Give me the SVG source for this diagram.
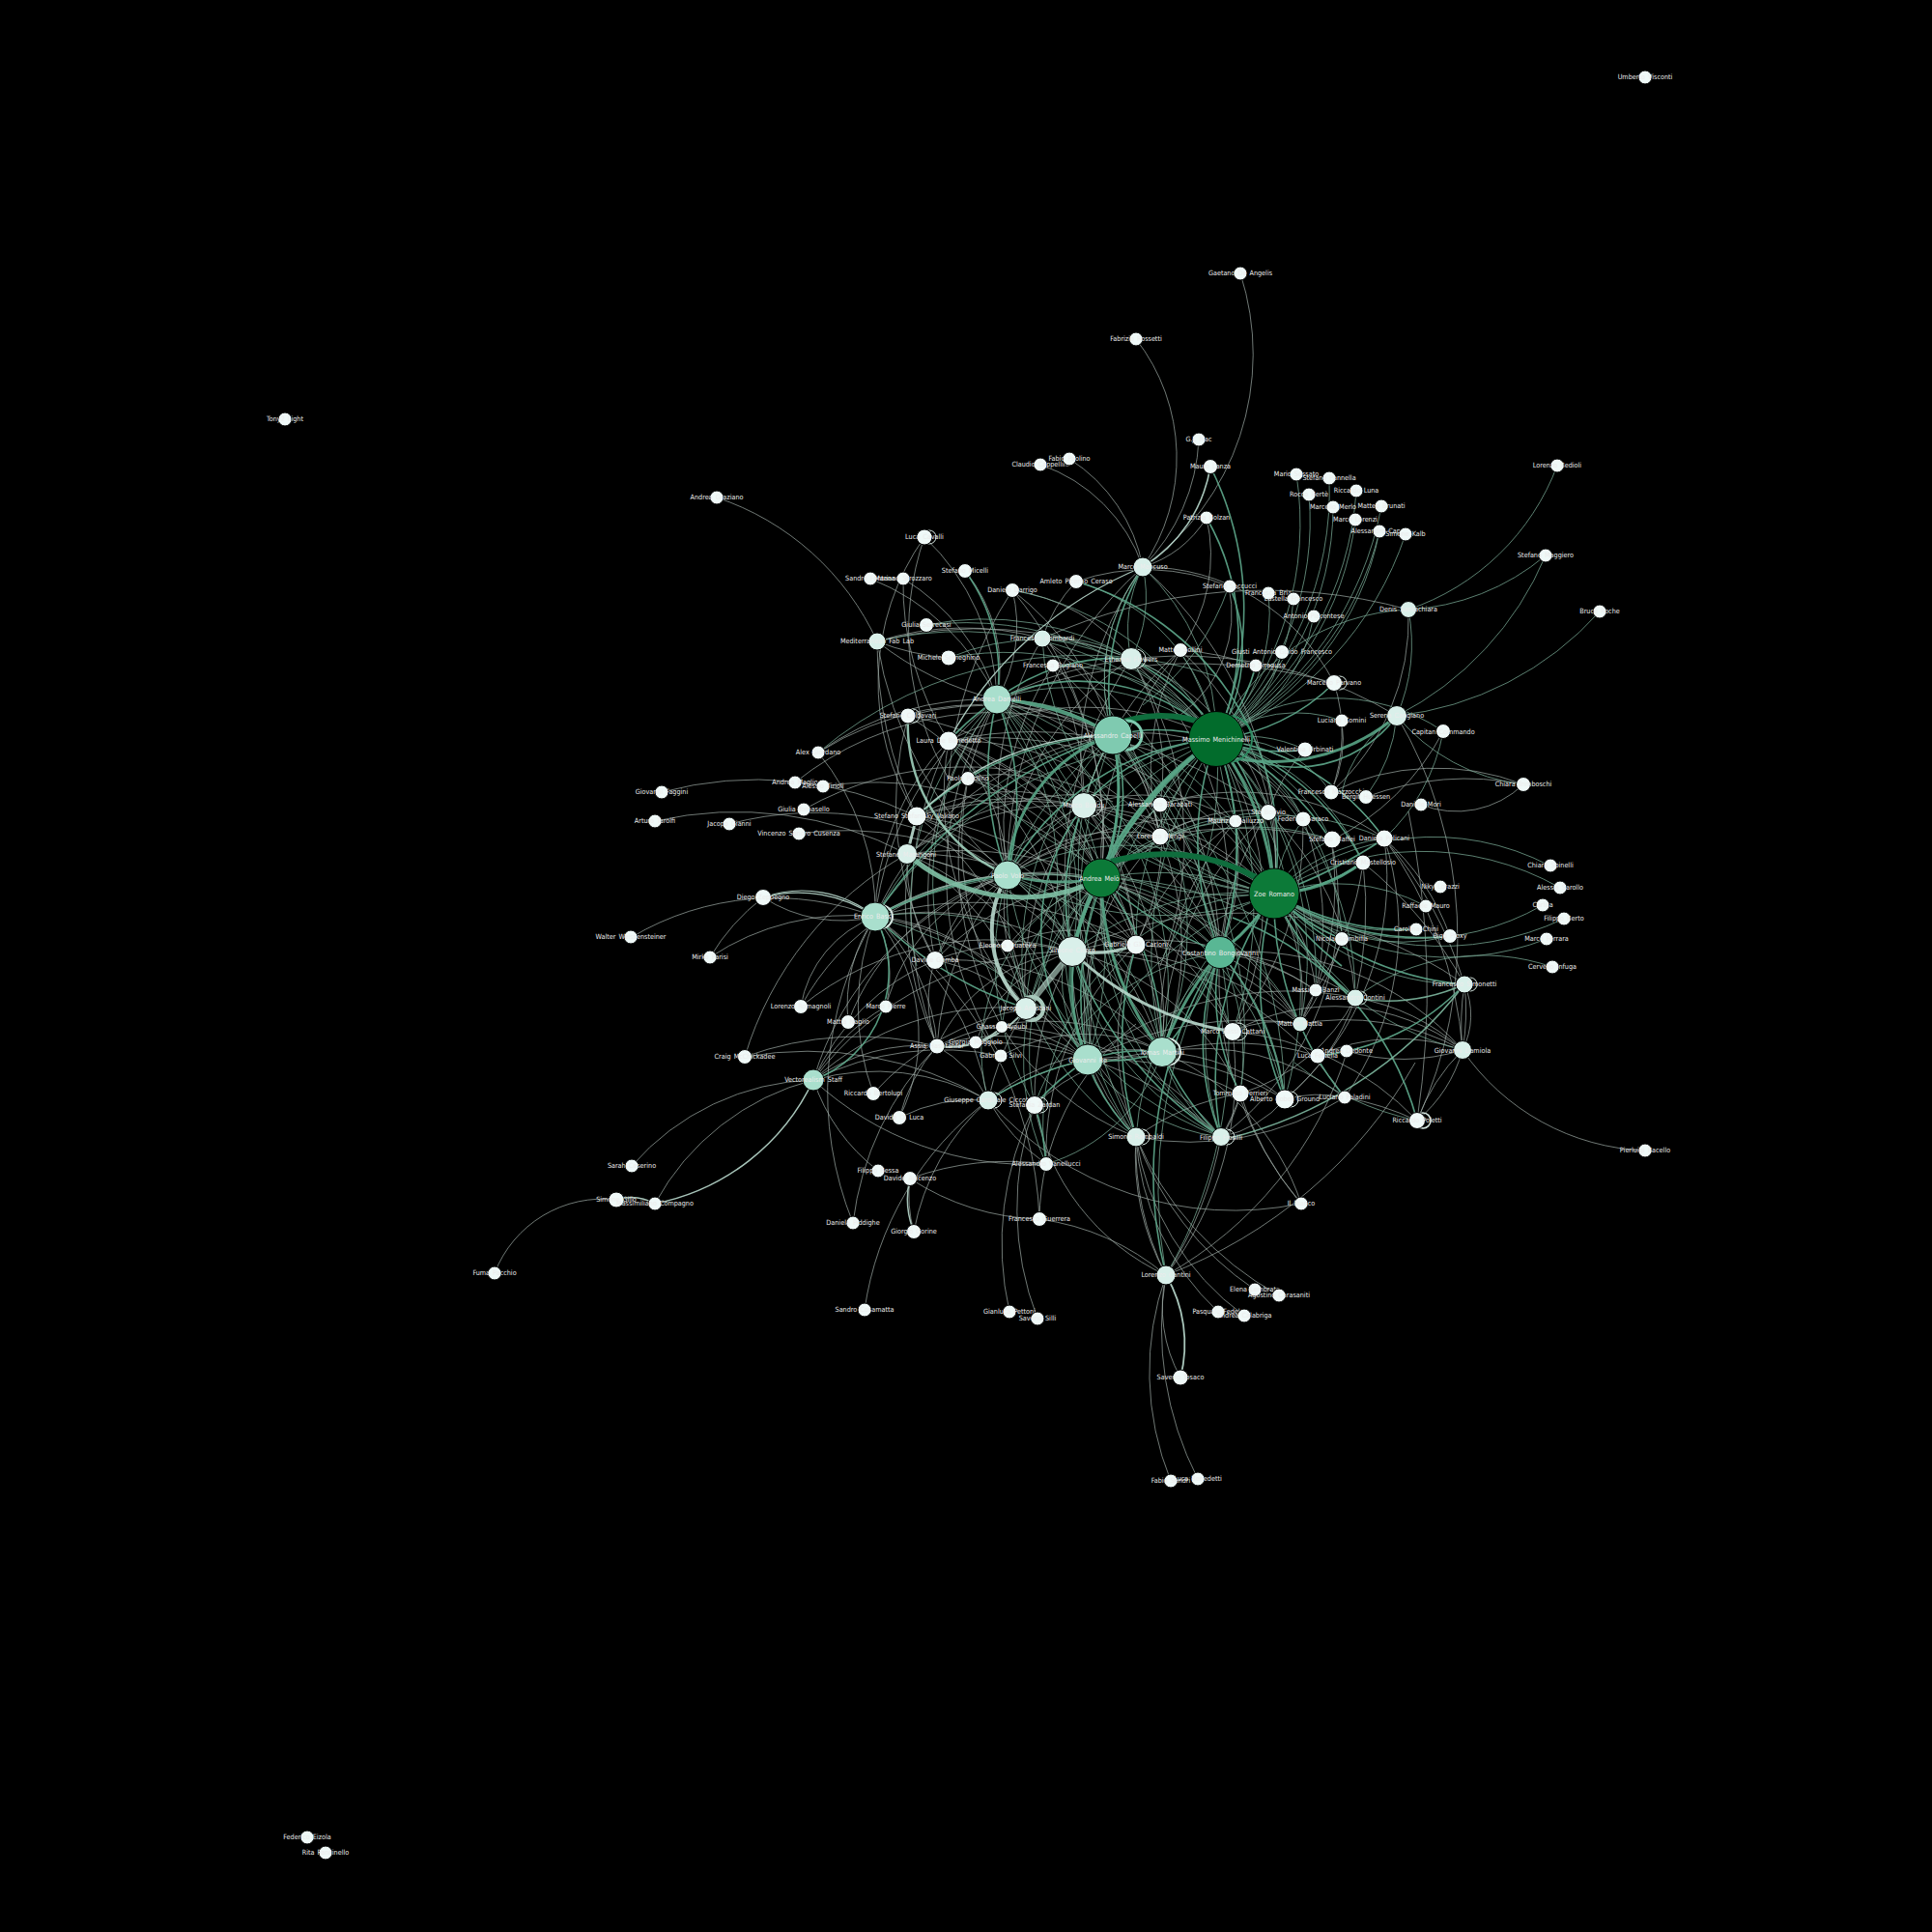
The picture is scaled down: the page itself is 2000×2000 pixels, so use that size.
<svg xmlns="http://www.w3.org/2000/svg" width="2000" height="2000" viewBox="0 0 2000 2000">
<style>
#connectors path,#connectors circle{fill:none}
.t{stroke:#d5e6e0;stroke-width:.7;opacity:.75}
.g{stroke:#86bca6;stroke-width:.8;opacity:.85}
.m{stroke:#5fa98c;stroke-width:1.6;opacity:.9}
.n{stroke:#58a586;stroke-width:3;opacity:.9}
.d{stroke:#0f6d3d;stroke-width:6}
.w{stroke:#b9d9cd;stroke-width:3;opacity:.9}
.l{stroke:#d5e6e0;stroke-width:1}
.node circle{stroke:#000;stroke-width:1}
.node text{font-family:"DejaVu Sans Condensed","DejaVu Sans",sans-serif;font-size:7.2px;word-spacing:1px;fill:#ececec;text-anchor:middle}
.s circle{fill:#eff9f8}.a circle{fill:#d9f0ea}.b circle{fill:#a9dfcd}.c circle{fill:#7fcab0}.e circle{fill:#59b794}.f circle{fill:#0c7a38}.k circle{fill:#026c2c}
</style>
<rect width="2000" height="2000" fill="#000"/>
<g id="connectors">
<g class="t">
<path d="M1284 283A270 270 0 0 1 1183 587"/><path d="M1176 351A200 200 0 0 1 1183 587"/><path d="M1241 455A200 200 0 0 1 1183 587"/><path d="M1249 536A120 120 0 0 1 1183 587"/>
<path d="M1249 536A170 170 0 0 1 1222 673"/><path d="M1077 481A170 170 0 0 1 1183 587"/><path d="M1107 475A170 170 0 0 1 1183 587"/>
<path d="M742 515A280 280 0 0 1 908 664"/><path d="M957 556A240 240 0 0 1 1032 724"/><path d="M957 556A260 260 0 0 0 949 845"/><path d="M957 556A300 300 0 0 0 982 806"/>
<path d="M999 591A160 160 0 0 1 1032 724"/><path d="M901 599A240 240 0 0 1 1032 724"/><path d="M935 599A220 220 0 0 1 1032 724"/><path d="M935 599A300 300 0 0 0 982 767"/>
<path d="M1048 611A150 150 0 0 1 1032 724"/><path d="M1048 611A190 190 0 0 1 1171 682"/><path d="M1048 611A300 300 0 0 1 1152 761"/>
<path d="M908 664A420 420 0 0 0 949 845"/><path d="M908 664A400 400 0 0 0 1043 906"/><path d="M908 664A320 320 0 0 0 1032 724"/><path d="M908 664A260 260 0 0 0 982 681"/><path d="M908 664A300 300 0 0 1 1079 661"/><path d="M908 664A420 420 0 0 1 1171 682"/>
<path d="M847 779A260 260 0 0 1 906 949"/><path d="M847 779A300 300 0 0 1 1032 724"/><path d="M847 779A320 320 0 0 1 1079 735"/>
<path d="M685 820A380 380 0 0 1 949 845"/><path d="M678 850A380 380 0 0 1 939 884"/><path d="M755 853A340 340 0 0 1 1043 906"/><path d="M823 810A330 330 0 0 1 1152 761"/><path d="M852 814A330 330 0 0 1 1140 909"/><path d="M832 838A340 340 0 0 1 1152 830"/><path d="M827 863A330 330 0 0 1 1043 906"/>
<path d="M654 970A290 290 0 0 1 906 949"/><path d="M735 991A220 220 0 0 1 790 929"/><path d="M735 991A260 260 0 0 1 906 949"/><path d="M790 929A150 150 0 0 0 906 949"/><path d="M771 1094A360 360 0 0 1 939 884"/><path d="M771 1094A370 370 0 0 1 1023 1139"/>
<path d="M654 1207A260 260 0 0 1 842 1118"/><path d="M678 1246A260 260 0 0 1 842 1118"/><path d="M512 1318A120 120 0 0 1 638 1242"/><path d="M842 1118A200 200 0 0 0 909 1212"/><path d="M842 1118A330 330 0 0 0 1083 1205"/>
<path d="M906 949A120 120 0 0 0 829 1042"/><path d="M906 949A160 160 0 0 0 878 1058"/><path d="M906 949A130 130 0 0 1 917 1042"/><path d="M906 949A190 190 0 0 1 931 1157"/><path d="M906 949A200 200 0 0 1 1062 1044"/><path d="M906 949A200 200 0 0 1 970 1083"/><path d="M906 949A300 300 0 0 1 1023 1139"/><path d="M906 949A260 260 0 0 0 904 1132"/><path d="M906 949A360 360 0 0 0 883 1266"/><path d="M906 949A400 400 0 0 1 1076 1262"/><path d="M906 949A300 300 0 0 1 1110 985"/><path d="M906 949A320 320 0 0 1 1126 1097"/><path d="M906 949A300 300 0 0 1 1043 906"/><path d="M906 949A340 340 0 0 1 1140 909"/><path d="M906 949A320 320 0 0 1 1152 761"/><path d="M906 949A340 340 0 0 1 1032 724"/><path d="M906 949A260 260 0 0 1 982 767"/><path d="M906 949A350 350 0 0 1 1176 978"/>
<path d="M968 994A130 130 0 0 0 970 1083"/><path d="M968 994A180 180 0 0 1 1062 1044"/><path d="M968 994A230 230 0 0 1 1110 985"/><path d="M968 994A300 300 0 0 1 1203 1089"/><path d="M968 994A280 280 0 0 1 1140 909"/><path d="M968 994A250 250 0 0 1 1043 906"/>
<path d="M829 1042A260 260 0 0 1 1043 906"/><path d="M829 1042A310 310 0 0 1 1110 985"/><path d="M917 1042A200 200 0 0 1 1043 906"/><path d="M878 1058A250 250 0 0 1 1043 906"/><path d="M771 1094A340 340 0 0 1 970 1083"/>
<path d="M842 1118A190 190 0 0 1 970 1083"/><path d="M842 1118A240 240 0 0 1 1023 1139"/><path d="M842 1118A290 290 0 0 1 1062 1044"/><path d="M842 1118A300 300 0 0 1 1036 1093"/><path d="M842 1118A330 330 0 0 1 1110 985"/><path d="M842 1118A240 240 0 0 1 968 994"/><path d="M842 1118A320 320 0 0 1 1043 906"/><path d="M842 1118A200 200 0 0 1 917 1042"/>
<path d="M970 1083A190 190 0 0 1 1126 1097"/><path d="M970 1083A250 250 0 0 1 1203 1089"/><path d="M970 1083A170 170 0 0 1 1110 985"/><path d="M970 1083A130 130 0 0 1 1023 1139"/>
<path d="M931 1157A170 170 0 0 1 1023 1139"/><path d="M931 1157A180 180 0 0 1 970 1083"/><path d="M904 1132A280 280 0 0 1 1062 1044"/>
<path d="M883 1266A320 320 0 0 1 970 1083"/><path d="M946 1275A240 240 0 0 1 1023 1139"/><path d="M942 1220A140 140 0 0 0 946 1275"/><path d="M895 1356A330 330 0 0 1 1023 1139"/><path d="M942 1220A300 300 0 0 1 1083 1205"/><path d="M942 1220A260 260 0 0 0 1076 1262"/><path d="M1045 1358A320 320 0 0 1 1071 1144"/><path d="M1074 1365A320 320 0 0 1 1071 1144"/><path d="M1076 1262A260 260 0 0 1 1207 1320"/>
<path d="M1083 1205A300 300 0 0 1 1176 978"/><path d="M1023 1139A210 210 0 0 0 1083 1205"/><path d="M1076 1262A260 260 0 0 1 1176 1060"/><path d="M1071 1144A320 320 0 0 1 1110 985"/>
<path d="M1176 1177A260 260 0 0 0 1207 1320"/><path d="M1207 1320A300 300 0 0 1 1176 1177"/><path d="M1176 1177A320 320 0 0 0 1299 1335"/><path d="M1176 1177A270 270 0 0 0 1261 1358"/><path d="M1176 1177A280 280 0 0 0 1288 1362"/><path d="M1176 1177A340 340 0 0 0 1324 1341"/><path d="M1212 1533A300 300 0 0 1 1207 1320"/><path d="M1240 1531A340 340 0 0 1 1207 1320"/><path d="M1222 1426A150 150 0 0 1 1207 1320"/><path d="M1207 1320A400 400 0 0 0 1264 1177"/><path d="M1207 1320A340 340 0 0 0 1276 1068"/><path d="M1207 1320A500 500 0 0 0 1465 1100"/><path d="M1207 1320A400 400 0 0 0 1394 1090"/><path d="M1347 1246A260 260 0 0 0 1203 1089"/><path d="M1347 1246A320 320 0 0 1 1284 1132"/><path d="M1347 1246A360 360 0 0 1 1263 986"/>
<path d="M1176 1177A300 300 0 0 0 1392 1136"/><path d="M1264 1177A120 120 0 0 0 1330 1138"/><path d="M1264 1177A120 120 0 0 0 1284 1132"/><path d="M1284 1132A200 200 0 0 1 1264 1177"/><path d="M1176 1177A260 260 0 0 1 1284 1132"/><path d="M1330 1138A130 130 0 0 1 1392 1136"/><path d="M1392 1136A300 300 0 0 1 1467 1160"/><path d="M1330 1138A230 230 0 0 0 1403 1033"/>
<path d="M1403 1033A220 220 0 0 1 1514 1087"/><path d="M1362 1025A180 180 0 0 0 1346 1060"/><path d="M1364 1093A200 200 0 0 1 1514 1087"/><path d="M1514 1087A210 210 0 0 1 1394 1088"/><path d="M1467 1160A200 200 0 0 1 1514 1087"/><path d="M1514 1087A150 150 0 0 1 1467 1160"/><path d="M1516 1019A230 230 0 0 1 1514 1087"/><path d="M1516 1019A80 80 0 0 1 1514 1087"/><path d="M1514 1087A260 260 0 0 1 1516 1019"/><path d="M1514 1087A240 240 0 0 0 1703 1191"/>
<path d="M1467 1160A900 900 0 0 0 1458 840"/><path d="M1403 1033A400 400 0 0 0 1411 893"/><path d="M1389 972A300 300 0 0 1 1346 1060"/><path d="M1433 868A420 420 0 0 1 1514 1087"/><path d="M1411 893A420 420 0 0 1 1516 1019"/><path d="M1433 868A420 420 0 0 1 1516 1019"/><path d="M1446 741A450 450 0 0 1 1467 1160"/><path d="M1433 868A250 250 0 0 1 1501 969"/>
<path d="M1378 820A250 250 0 0 1 1577 812"/><path d="M1414 825A300 300 0 0 1 1577 812"/><path d="M1577 812A100 100 0 0 1 1471 833"/><path d="M1494 757A260 260 0 0 1 1378 870"/>
<path d="M1079 661A560 560 0 0 1 1458 631"/><path d="M1222 673A300 300 0 0 1 1300 689"/><path d="M1381 707A560 560 0 0 0 1032 724"/><path d="M1032 724A430 430 0 0 1 1446 741"/><path d="M1114 602A150 150 0 0 0 1079 661"/><path d="M1114 602A220 220 0 0 1 1272 607"/>
<path d="M1272 607A130 130 0 0 1 1222 740"/><path d="M1183 587A220 220 0 0 1 1381 707"/><path d="M1381 707A170 170 0 0 1 1378 820"/><path d="M1389 746A130 130 0 0 1 1378 820"/><path d="M1351 776A180 180 0 0 0 1313 841"/><path d="M1458 631A240 240 0 0 1 1378 820"/>
<path d="M1201 833A260 260 0 0 1 1433 868"/><path d="M1201 866A170 170 0 0 1 1349 848"/><path d="M1201 866A90 90 0 0 1 1279 850"/><path d="M1201 866A400 400 0 0 1 1378 869"/><path d="M1201 833A140 140 0 0 1 1313 841"/><path d="M1201 833A170 170 0 0 0 1043 906"/><path d="M1201 866A170 170 0 0 0 1043 906"/><path d="M1122 834A180 180 0 0 1 1279 850"/><path d="M1152 761A200 200 0 0 1 1349 848"/><path d="M1152 761A220 220 0 0 1 1201 866"/><path d="M1171 682A240 240 0 0 1 1313 841"/><path d="M1171 682A220 220 0 0 1 1201 833"/><path d="M1032 724A220 220 0 0 1 1201 833"/><path d="M1032 724A240 240 0 0 1 1201 866"/><path d="M982 767A270 270 0 0 1 1201 866"/><path d="M982 767A240 240 0 0 1 1140 909"/><path d="M982 767A200 200 0 0 1 1043 906"/><path d="M982 767A400 400 0 0 1 1313 841"/><path d="M1002 806A130 130 0 0 1 1122 834"/><path d="M1002 806A190 190 0 0 1 1140 909"/><path d="M1002 806A300 300 0 0 1 1176 978"/><path d="M1002 806A340 340 0 0 0 1043 1044"/><path d="M949 845A330 330 0 0 1 1110 985"/><path d="M949 845A340 340 0 0 1 1176 978"/><path d="M949 845A200 200 0 0 1 1122 834"/><path d="M939 884A300 300 0 0 1 1122 834"/><path d="M939 884A300 300 0 0 1 1110 985"/>
<path d="M1043 979A150 150 0 0 1 1176 978"/><path d="M1043 979A250 250 0 0 0 1126 1097"/><path d="M1043 979A180 180 0 0 1 1043 906"/><path d="M1043 979A260 260 0 0 1 1140 909"/>
<path d="M1010 1079A150 150 0 0 1 1110 985"/><path d="M1037 1063A180 180 0 0 1 1126 1097"/><path d="M1036 1093A180 180 0 0 1 1203 1089"/><path d="M1037 1063A300 300 0 0 1 1264 1177"/><path d="M1010 1079A360 360 0 0 1 1264 1177"/><path d="M1023 1139A230 230 0 0 1 1203 1089"/><path d="M1071 1144A200 200 0 0 1 1203 1089"/><path d="M1071 1144A240 240 0 0 0 1207 1320"/><path d="M1023 1139A340 340 0 0 0 1346 1246"/><path d="M1037 1063A290 290 0 0 0 1176 1177"/><path d="M1062 1044A210 210 0 0 1 1176 1177"/><path d="M1126 1097A200 200 0 0 0 1176 1177"/><path d="M1110 985A280 280 0 0 0 1176 1177"/><path d="M1176 978A270 270 0 0 0 1176 1177"/>
<path d="M1284 1132A200 200 0 0 0 1403 1033"/><path d="M1276 1068A220 220 0 0 1 1514 1087"/><path d="M1346 1060A250 250 0 0 1 1514 1087"/><path d="M1203 1089A240 240 0 0 1 1392 1136"/><path d="M1203 1089A220 220 0 0 1 1330 1138"/><path d="M1126 1097A310 310 0 0 1 1330 1138"/><path d="M1126 1097A300 300 0 0 1 1284 1132"/><path d="M1110 985A260 260 0 0 1 1284 1132"/><path d="M1203 1089A300 300 0 0 1 1364 1093"/><path d="M1276 1068A110 110 0 0 1 1346 1060"/><path d="M1276 1068A300 300 0 0 1 1467 1160"/>
<path d="M1319 925A180 180 0 0 1 1362 1025"/><path d="M1319 925A200 200 0 0 1 1346 1060"/><path d="M1263 986A240 240 0 0 1 1346 1060"/><path d="M1263 986A300 300 0 0 1 1514 1087"/><path d="M1263 986A300 300 0 0 1 1403 1033"/><path d="M1263 986A240 240 0 0 1 1362 1025"/><path d="M1176 978A240 240 0 0 1 1346 1060"/><path d="M1176 978A250 250 0 0 1 1276 1068"/>
<path d="M939 884A300 300 0 0 1 1201 833"/><path d="M939 884A330 330 0 0 1 1176 978"/><path d="M939 884A330 330 0 0 1 1126 1097"/><path d="M939 884A380 380 0 0 1 1203 1089"/><path d="M939 884A400 400 0 0 1 1263 986"/><path d="M939 884A200 200 0 0 0 968 994"/><path d="M939 884A260 260 0 0 1 1062 1044"/><path d="M949 845A400 400 0 0 1 1319 925"/><path d="M949 845A300 300 0 0 1 1201 866"/><path d="M949 845A280 280 0 0 1 1062 1044"/><path d="M949 845A350 350 0 0 0 970 1083"/><path d="M949 845A380 380 0 0 1 1203 1089"/>
<path d="M982 767A300 300 0 0 1 1176 978"/><path d="M982 767A340 340 0 0 1 1126 1097"/><path d="M982 767A380 380 0 0 1 1203 1089"/><path d="M982 767A330 330 0 0 0 1062 1044"/><path d="M982 767A340 340 0 0 1 1319 925"/><path d="M982 767A300 300 0 0 1 1259 765"/><path d="M982 767A400 400 0 0 0 970 1083"/><path d="M940 741A360 360 0 0 1 1122 834"/><path d="M940 741A340 340 0 0 0 968 994"/><path d="M940 741A380 380 0 0 1 1110 985"/><path d="M940 741A300 300 0 0 1 1152 761"/>
<path d="M1032 724A360 360 0 0 0 1037 1063"/><path d="M1032 724A340 340 0 0 0 1036 1093"/><path d="M1032 724A320 320 0 0 0 968 994"/><path d="M1032 724A340 340 0 0 1 1176 978"/><path d="M1079 661A320 320 0 0 1 1201 866"/><path d="M1079 661A320 320 0 0 0 1043 906"/><path d="M1079 661A360 360 0 0 1 1140 909"/><path d="M1079 661A400 400 0 0 1 1263 986"/><path d="M1090 689A300 300 0 0 0 1043 906"/><path d="M1090 689A300 300 0 0 1 1201 866"/><path d="M1090 689A320 320 0 0 1 1122 834"/><path d="M1048 611A400 400 0 0 1 1140 909"/><path d="M1048 611A420 420 0 0 0 982 806"/>
<path d="M1171 682A350 350 0 0 1 1201 1000"/><path d="M1171 682A300 300 0 0 1 1276 1068"/><path d="M1171 682A400 400 0 0 0 1110 985"/><path d="M1171 682A320 320 0 0 1 1263 986"/><path d="M1171 682A280 280 0 0 0 1043 906"/><path d="M1222 673A320 320 0 0 0 1122 834"/><path d="M1222 673A260 260 0 0 0 1201 866"/><path d="M1222 673A300 300 0 0 1 1319 925"/><path d="M1222 673A330 330 0 0 0 1140 909"/><path d="M1183 587A340 340 0 0 0 1122 834"/><path d="M1183 587A420 420 0 0 0 1043 906"/><path d="M1183 587A400 400 0 0 1 1319 925"/>
<path d="M1201 833A300 300 0 0 1 1263 986"/><path d="M1201 833A260 260 0 0 1 1176 978"/><path d="M1201 866A260 260 0 0 1 1263 986"/><path d="M1201 866A260 260 0 0 0 1126 1097"/><path d="M1201 866A300 300 0 0 1 1203 1089"/><path d="M1201 833A320 320 0 0 0 1110 985"/><path d="M1279 850A260 260 0 0 1 1263 986"/><path d="M1279 850A320 320 0 0 0 1203 1089"/><path d="M1279 850A300 300 0 0 0 1176 978"/><path d="M1313 841A300 300 0 0 0 1263 986"/><path d="M1313 841A340 340 0 0 0 1203 1089"/><path d="M1313 841A300 300 0 0 1 1403 1033"/><path d="M1349 848A300 300 0 0 1 1362 1025"/><path d="M1349 848A340 340 0 0 1 1276 1068"/><path d="M1378 869A300 300 0 0 1 1346 1060"/><path d="M1378 869A300 300 0 0 1 1264 1177"/><path d="M1411 893A320 320 0 0 1 1362 1025"/><path d="M1433 868A300 300 0 0 1 1330 1138"/><path d="M1433 868A300 300 0 0 1 1392 1136"/>
<path d="M1122 834A300 300 0 0 1 1263 986"/><path d="M1122 834A300 300 0 0 1 1319 925"/><path d="M1122 834A300 300 0 0 0 1062 1044"/><path d="M1122 834A280 280 0 0 1 1176 978"/><path d="M1122 834A340 340 0 0 1 1203 1089"/><path d="M1122 834A300 300 0 0 0 968 994"/><path d="M1043 906A320 320 0 0 1 1346 1060"/><path d="M1043 906A280 280 0 0 1 1276 1068"/><path d="M1043 906A300 300 0 0 0 970 1083"/><path d="M1043 906A240 240 0 0 1 1201 866"/><path d="M1043 906A340 340 0 0 1 1279 850"/><path d="M1110 985A300 300 0 0 1 1362 1025"/><path d="M1110 985A340 340 0 0 1 1346 1060"/><path d="M1110 985A300 300 0 0 0 1023 1139"/><path d="M1110 985A340 340 0 0 1 1392 1136"/><path d="M1110 985A400 400 0 0 1 1516 1019"/><path d="M1126 1097A340 340 0 0 1 1403 1033"/><path d="M1126 1097A300 300 0 0 0 1023 1139"/><path d="M1126 1097A360 360 0 0 1 1346 1060"/>
</g>
<g class="g">
<path d="M1342 491A330 330 0 0 1 1259 765"/><path d="M1355 512A310 310 0 0 1 1259 765"/><path d="M1376 495A340 340 0 0 1 1259 765"/><path d="M1380 525A300 300 0 0 1 1259 765"/><path d="M1404 508A340 340 0 0 1 1259 765"/><path d="M1403 538A310 310 0 0 1 1259 765"/><path d="M1430 524A350 350 0 0 1 1259 765"/><path d="M1428 550A330 330 0 0 1 1259 765"/><path d="M1428 550A300 300 0 0 1 1259 765"/><path d="M1455 553A350 350 0 0 1 1259 765"/>
<path d="M1313 614A180 180 0 0 1 1259 765"/><path d="M1339 620A190 190 0 0 1 1259 765"/><path d="M1360 638A170 170 0 0 1 1259 765"/><path d="M1327 675A140 140 0 0 1 1259 765"/><path d="M1259 765A230 230 0 0 1 1458 631"/><path d="M1259 765A140 140 0 0 1 1389 746"/><path d="M1259 765A200 200 0 0 1 1494 757"/>
<path d="M1612 482A250 250 0 0 1 1458 631"/><path d="M1600 575A240 240 0 0 1 1458 631"/><path d="M1600 575A330 330 0 0 1 1446 741"/><path d="M1656 633A330 330 0 0 1 1446 741"/><path d="M1458 631A190 190 0 0 1 1446 741"/><path d="M1577 812A200 200 0 0 1 1446 741"/><path d="M1446 741A130 130 0 0 0 1389 820"/><path d="M1446 741A170 170 0 0 1 1414 825"/><path d="M1494 757A200 200 0 0 1 1433 868"/>
<path d="M1221 673A260 260 0 0 1 1259 765"/><path d="M1272 607A260 260 0 0 1 1183 730"/><path d="M1183 587A140 140 0 0 1 1171 682"/><path d="M1171 682A140 140 0 0 1 1183 587"/><path d="M1183 587A190 190 0 0 0 1152 761"/><path d="M1152 761A190 190 0 0 1 1183 587"/><path d="M1183 587A240 240 0 0 1 1259 765"/>
<path d="M1114 602A200 200 0 0 1 1259 765"/><path d="M1048 611A300 300 0 0 1 1259 765"/><path d="M1079 661A260 260 0 0 1 1259 765"/><path d="M959 647A340 340 0 0 1 1259 765"/><path d="M982 681A310 310 0 0 1 1259 765"/><path d="M908 664A370 370 0 0 1 1259 765"/><path d="M1090 689A210 210 0 0 1 1259 765"/><path d="M1032 724A240 240 0 0 1 1259 765"/><path d="M1171 682A150 150 0 0 1 1259 765"/><path d="M847 779A430 430 0 0 1 1259 700"/><path d="M959 647A300 300 0 0 1 1171 682"/><path d="M982 681A240 240 0 0 1 1171 682"/><path d="M1079 661A160 160 0 0 1 1171 682"/>
<path d="M1319 925A260 260 0 0 1 1604 896"/><path d="M1319 925A290 290 0 0 1 1615 919"/><path d="M1319 925A260 260 0 0 0 1597 937"/><path d="M1319 925A300 300 0 0 0 1619 951"/><path d="M1319 925A280 280 0 0 0 1601 972"/><path d="M1319 925A200 200 0 0 0 1501 969"/><path d="M1319 925A170 170 0 0 0 1389 972"/><path d="M1607 1001A220 220 0 0 0 1403 1033"/><path d="M1319 925A250 250 0 0 0 1516 1019"/><path d="M1319 925A290 290 0 0 0 1514 1087"/><path d="M1319 925A230 230 0 0 0 1403 1033"/><path d="M1319 925A200 200 0 0 1 1476 938"/><path d="M1319 925A220 220 0 0 0 1466 962"/>
<path d="M1259 765A350 350 0 0 1 1204 990"/><path d="M1319 925A190 190 0 0 1 1433 868"/><path d="M1319 925A130 130 0 0 1 1378 869"/><path d="M1319 925A160 160 0 0 1 1349 848"/><path d="M1319 925A200 200 0 0 0 1313 841"/><path d="M1319 925A120 120 0 0 1 1279 850"/><path d="M1319 925A220 220 0 0 1 1201 866"/><path d="M1319 925A220 220 0 0 1 1201 833"/><path d="M1319 925A300 300 0 0 1 1122 834"/><path d="M1319 925A330 330 0 0 1 1032 724"/><path d="M1319 925A320 320 0 0 1 1043 906"/><path d="M1319 925A360 360 0 0 1 982 767"/><path d="M1319 925A280 280 0 0 1 1079 661"/>
<path d="M1259 765A130 130 0 0 1 1378 820"/><path d="M1259 765A150 150 0 0 1 1351 776"/><path d="M1259 765A170 170 0 0 0 1313 841"/><path d="M1259 765A160 160 0 0 1 1349 848"/><path d="M1259 765A200 200 0 0 1 1378 869"/><path d="M1259 765A250 250 0 0 1 1433 868"/><path d="M1259 765A220 220 0 0 1 1411 893"/><path d="M1259 765A240 240 0 0 1 1389 972"/><path d="M1259 765A320 320 0 0 0 1279 850"/><path d="M1259 765A220 220 0 0 0 1201 866"/><path d="M1259 765A150 150 0 0 0 1201 833"/><path d="M1259 765A300 300 0 0 0 1176 978"/><path d="M1259 765A320 320 0 0 1 1403 1033"/><path d="M1259 765A340 340 0 0 1 1362 1025"/><path d="M1259 765A320 320 0 0 1 1346 1060"/><path d="M1259 765A400 400 0 0 1 1276 1068"/><path d="M1259 765A420 420 0 0 1 1330 1138"/><path d="M1259 765A420 420 0 0 0 1203 1089"/><path d="M1259 765A400 400 0 0 0 1126 1097"/><path d="M1259 765A360 360 0 0 0 1110 985"/><path d="M1259 765A400 400 0 0 0 1043 906"/><path d="M1259 765A320 320 0 0 0 1062 1044"/>
<path d="M1152 761A300 300 0 0 1 1201 1089"/><path d="M1152 761A400 400 0 0 1 1263 986"/><path d="M1152 761A340 340 0 0 0 1110 985"/><path d="M1152 761A380 380 0 0 1 1319 925"/><path d="M1152 761A360 360 0 0 0 1043 906"/><path d="M1152 761A280 280 0 0 0 1122 834"/><path d="M1152 761A330 330 0 0 0 1062 1044"/><path d="M1152 761A400 400 0 0 0 1126 1097"/><path d="M1152 761A500 500 0 0 1 1330 1138"/><path d="M1152 761A420 420 0 0 1 1284 1132"/><path d="M1152 761A500 500 0 0 0 1176 1177"/>
<path d="M1140 909A300 300 0 0 1 1276 1068"/><path d="M1140 909A320 320 0 0 1 1330 1138"/><path d="M1140 909A340 340 0 0 1 1403 1033"/><path d="M1140 909A300 300 0 0 1 1389 972"/><path d="M1140 909A300 300 0 0 1 1346 1060"/><path d="M1140 909A300 300 0 0 0 1264 1177"/><path d="M1140 909A280 280 0 0 0 1176 1177"/><path d="M1140 909A200 200 0 0 0 1037 1063"/><path d="M1140 909A190 190 0 0 0 1023 1139"/><path d="M1140 909A260 260 0 0 0 1071 1144"/><path d="M1140 909A260 260 0 0 0 1083 1205"/><path d="M1140 909A150 150 0 0 0 1126 1097"/><path d="M1140 909A130 130 0 0 1 1263 986"/><path d="M1140 909A240 240 0 0 0 1203 1089"/><path d="M1140 909A230 230 0 0 1 1201 833"/><path d="M1140 909A180 180 0 0 1 1201 866"/><path d="M1140 909A260 260 0 0 1 1378 869"/><path d="M1140 909A280 280 0 0 1 1433 868"/><path d="M1140 909A270 270 0 0 1 1313 841"/><path d="M1140 909A220 220 0 0 1 1279 850"/>
<path d="M1032 724A300 300 0 0 1 1140 909"/><path d="M1032 724A320 320 0 0 1 1319 925"/><path d="M1032 724A300 300 0 0 1 1110 985"/><path d="M1032 724A340 340 0 0 1 1203 1089"/><path d="M1032 724A360 360 0 0 1 1126 1097"/><path d="M1032 724A300 300 0 0 1 1062 1044"/><path d="M1032 724A360 360 0 0 1 1263 986"/><path d="M1032 724A300 300 0 0 0 949 1000"/><path d="M1032 724A300 300 0 0 0 982 1010"/><path d="M1032 724A220 220 0 0 1 1152 761"/>
<path d="M1043 906A260 260 0 0 1 1263 986"/><path d="M1043 906A240 240 0 0 1 1203 1089"/><path d="M1043 906A200 200 0 0 1 1126 1097"/><path d="M1043 906A260 260 0 0 1 1319 925"/><path d="M1043 906A300 300 0 0 0 1071 1144"/><path d="M1043 906A340 340 0 0 0 1264 1177"/><path d="M1043 906A300 300 0 0 0 1176 1177"/><path d="M1043 906A140 140 0 0 1 1110 985"/>
<path d="M1263 986A300 300 0 0 0 1264 1177"/><path d="M1263 986A260 260 0 0 1 1284 1132"/><path d="M1263 986A270 270 0 0 1 1330 1138"/><path d="M1263 986A300 300 0 0 0 1176 1177"/><path d="M1263 986A500 500 0 0 0 1207 1320"/><path d="M1263 986A480 480 0 0 1 1207 1320"/>
<path d="M1203 1089A170 170 0 0 0 1264 1177"/><path d="M1110 985A280 280 0 0 0 1264 1177"/><path d="M1126 1097A200 200 0 0 0 1264 1177"/><path d="M1122 834A340 340 0 0 0 1264 1177"/><path d="M1083 1205A180 180 0 0 0 1203 1089"/><path d="M1071 1144A240 240 0 0 1 1263 986"/><path d="M1083 1205A240 240 0 0 1 1319 925"/><path d="M1203 1089A300 300 0 0 1 1319 925"/><path d="M1126 1097A330 330 0 0 1 1319 925"/><path d="M1110 985A300 300 0 0 1 1319 925"/>
<path d="M906 949A300 300 0 0 1 1043 906"/><path d="M906 949A380 380 0 0 1 1152 761"/><path d="M906 949A420 420 0 0 1 1259 765"/><path d="M906 949A400 400 0 0 1 1140 909"/><path d="M906 949A300 300 0 0 1 1043 960"/><path d="M908 950A400 400 0 0 1 1126 1097"/><path d="M1467 1160A300 300 0 0 1 1340 1100"/>
</g>
<g class="m">
<path d="M1253 483A330 330 0 0 1 1259 765"/><path d="M1249 536A250 250 0 0 1 1259 765"/><path d="M1273 607A170 170 0 0 1 1259 765"/><path d="M1300 689A180 180 0 0 1 1259 765"/><path d="M1381 707A200 200 0 0 1 1259 765"/><path d="M1183 587A250 250 0 0 0 1152 761"/><path d="M1114 602A290 290 0 0 1 1319 925"/>
<path d="M1152 761A200 200 0 0 1 1259 765"/><path d="M1171 682A280 280 0 0 1 1319 925"/><path d="M1032 724A200 200 0 0 1 1259 765"/><path d="M1043 906A270 270 0 0 1 1259 765"/><path d="M1043 906A300 300 0 0 1 1032 724"/><path d="M1032 724A290 290 0 0 1 1043 906"/><path d="M1122 834A200 200 0 0 1 1259 765"/><path d="M1140 909A180 180 0 0 0 1152 761"/><path d="M1152 761A270 270 0 0 1 1140 909"/><path d="M1110 985A350 350 0 0 1 1259 765"/><path d="M1126 1097A320 320 0 0 1 1259 765"/><path d="M1110 985A250 250 0 0 1 1140 909"/>
<path d="M1259 765A320 320 0 0 1 1203 1089"/><path d="M1259 765A330 330 0 0 1 1263 986"/><path d="M1259 765A300 300 0 0 0 1263 986"/><path d="M1259 765A300 300 0 0 1 1378 870"/><path d="M1259 765A250 250 0 0 1 1433 868"/><path d="M1351 776A180 180 0 0 1 1259 765"/><path d="M1259 765A250 250 0 0 1 1411 893"/>
<path d="M1319 925A280 280 0 0 1 1263 986"/><path d="M1319 925A330 330 0 0 0 1264 1177"/><path d="M1319 925A300 300 0 0 0 1330 1138"/><path d="M1319 925A320 320 0 0 0 1392 1136"/><path d="M1319 925A280 280 0 0 0 1403 1033"/><path d="M1319 925A310 310 0 0 0 1516 1019"/><path d="M1319 925A220 220 0 0 0 1389 972"/><path d="M1319 925A280 280 0 0 0 1501 969"/><path d="M1319 925A260 260 0 0 0 1466 962"/>
<path d="M1140 909A370 370 0 0 0 1263 986"/><path d="M1140 909A210 210 0 0 0 1126 1097"/><path d="M1140 909A220 220 0 0 0 1110 985"/><path d="M1140 909A280 280 0 0 1 1203 1089"/><path d="M1140 909A250 250 0 0 1 1043 906"/><path d="M1043 906A200 200 0 0 0 1140 909"/><path d="M1140 909A220 220 0 0 0 1176 1177"/><path d="M1122 834A210 210 0 0 0 1126 1097"/><path d="M1122 834A240 240 0 0 0 1110 985"/>
<path d="M1263 986A260 260 0 0 0 1264 1177"/><path d="M1263 986A300 300 0 0 1 1330 1138"/><path d="M1263 986A220 220 0 0 0 1284 1132"/><path d="M1263 986A420 420 0 0 0 1207 1320"/><path d="M1203 1089A280 280 0 0 0 1264 1177"/><path d="M1110 985A380 380 0 0 0 1264 1177"/><path d="M1176 978A350 350 0 0 0 1176 1177"/><path d="M1126 1097A180 180 0 0 1 1203 1089"/><path d="M1203 1089A180 180 0 0 1 1126 1097"/>
<path d="M906 949A400 400 0 0 1 1043 906"/><path d="M906 949A460 460 0 0 1 1152 761"/><path d="M906 949A420 420 0 0 0 1062 1044"/><path d="M842 1118A120 120 0 0 0 906 949"/><path d="M1071 1144A240 240 0 0 1 1126 1097"/><path d="M1023 1139A300 300 0 0 1 1126 1097"/>
<path d="M1032 724A200 200 0 0 1 1171 682"/><path d="M1032 724A320 320 0 0 1 1152 761"/><path d="M982 767A280 280 0 0 1 1032 724"/><path d="M999 591A180 180 0 0 1 1032 724"/><path d="M949 845A320 320 0 0 1 1152 761"/><path d="M1083 1205A230 230 0 0 0 1071 1144"/>
<path d="M1446 741A130 130 0 0 1 1259 765"/><path d="M1319 925A300 300 0 0 0 1389 1000"/><path d="M1467 1160A310 310 0 0 0 1276 950"/><path d="M1516 1019A240 240 0 0 1 1364 1093"/><path d="M1433 868A500 500 0 0 1 1319 925"/>
<path d="M1410 893A180 180 0 0 1 1319 925"/>
</g>
<g class="n">
<path d="M1140 909A300 300 0 0 1 1259 765"/><path d="M1203 1089A340 340 0 0 1 1263 986"/><path d="M1203 1089A300 300 0 0 1 1140 909"/><path d="M1319 925A160 160 0 0 0 1410 893"/><path d="M1259 765A300 300 0 0 1 1319 925"/><path d="M1152 761A160 160 0 0 0 1043 906"/><path d="M1152 761A250 250 0 0 1 1140 909"/><path d="M1110 985A400 400 0 0 1 1259 765"/><path d="M1126 1097A200 200 0 0 1 1110 985" opacity=".7"/><path d="M1032 724A250 250 0 0 1 1152 761"/>
<path d="M1319 925A220 220 0 0 1 1263 986"/><path d="M1446 741A200 200 0 0 1 1259 780"/>
</g>
<g class="d"><path d="M1152 751A130 130 0 0 1 1250 750"/><path d="M1150 892A200 200 0 0 1 1300 908"/></g>
<g class="w">
<path d="M1062 1044A110 110 0 0 1 1043 906" stroke-width="4"/><path d="M1062 1044L1110 985" stroke-width="6" opacity=".7"/><path d="M1276 1068A300 300 0 0 1 1110 985"/><path d="M1176 978A130 130 0 0 1 1110 985"/><path d="M949 845L939 884"/>
<path d="M1140 909A180 180 0 0 1 939 884" style="stroke:#7fc0a5;stroke-width:5"/><path d="M1043 906A170 170 0 0 1 940 741" style="stroke:#9fd0bc;stroke-width:2.5"/>
<path d="M982 767A400 400 0 0 1 1183 587" style="stroke-width:1.3"/><path d="M1062 1044A100 100 0 0 1 970 1083" style="stroke-width:2"/><path d="M1037 1063A60 60 0 0 1 1010 1079" style="stroke-width:2"/><path d="M1207 1320A140 140 0 0 1 1222 1426" style="stroke-width:1.8"/><path d="M1253 483A150 150 0 0 1 1183 587" style="stroke-width:1.6"/>
<path d="M842 1118A230 230 0 0 1 678 1246" style="stroke-width:1.6"/><path d="M638 1242A50 50 0 0 1 678 1246" style="stroke-width:1.5"/><path d="M790 929A120 120 0 0 1 906 949" style="stroke-width:1.2"/><path d="M790 929A140 140 0 0 1 906 949" style="stroke-width:1.2"/>
<path d="M942 1220A90 90 0 0 0 946 1275" style="stroke-width:1.5"/><path d="M949 845A290 290 0 0 1 1152 761" style="stroke-width:1.5"/><path d="M1400 1033A200 200 0 0 0 1516 1019" style="stroke:#7fb8a0;stroke-width:1.4"/><path d="M1516 1019A440 440 0 0 1 1265 1180" style="stroke:#7fb8a0;stroke-width:1.5"/>
</g>
<g class="l">
<circle cx="962" cy="556" r="7"/><circle cx="945" cy="741" r="7"/><circle cx="1167" cy="761" r="15" style="stroke:#7fcab0;stroke-width:3"/><circle cx="1272" cy="765" r="24" style="stroke:#2f8a62;stroke-width:2"/><circle cx="1130" cy="834" r="11"/><circle cx="1176" cy="682" r="10"/><circle cx="1208" cy="1089" r="14" style="stroke-width:2"/><circle cx="912" cy="949" r="12" style="stroke-width:2"/><circle cx="1068" cy="1044" r="12" style="stroke:#a9c9bc;stroke-width:4"/><circle cx="1282" cy="1068" r="9"/><circle cx="1336" cy="1138" r="8"/><circle cx="1408" cy="1033" r="7"/><circle cx="1522" cy="1019" r="7"/><circle cx="1473" cy="1160" r="8" style="stroke-width:1.6"/><circle cx="1270" cy="1177" r="8"/><circle cx="1182" cy="1177" r="8"/><circle cx="1029" cy="1139" r="8"/><circle cx="1077" cy="1144" r="8"/><circle cx="1387" cy="707" r="7"/>
</g>
</g>
<g id="n1" class="node k"><circle cx="1259" cy="765" r="28.5"/><text x="1259" y="768">Massimo Menichinelli</text></g>
<g id="n2" class="node f"><circle cx="1319" cy="925" r="26"/><text x="1319" y="928">Zoe Romano</text></g>
<g id="n3" class="node f"><circle cx="1140" cy="909" r="20"/><text x="1138" y="912">Andrea Melò</text></g>
<g id="n4" class="node c"><circle cx="1152" cy="761" r="20"/><text x="1152" y="764">Alessandro Capelli</text></g>
<g id="n5" class="node e"><circle cx="1263" cy="986" r="16.5"/><text x="1263" y="989">Costantino Bongiovanni</text></g>
<g id="n6" class="node b"><circle cx="1203" cy="1089" r="15.5"/><text x="1203" y="1092">Tomas Martini</text></g>
<g id="n7" class="node b"><circle cx="1126" cy="1097" r="16"/><text x="1126" y="1100">Giovanni Re</text></g>
<g id="n8" class="node a"><circle cx="1110" cy="985" r="15.5"/><text x="1110" y="986">Simone Cicero</text></g>
<g id="n9" class="node b"><circle cx="1043" cy="906" r="15"/><text x="1043" y="909">Paolo Volo</text></g>
<g id="n10" class="node b"><circle cx="1032" cy="724" r="15"/><text x="1032" y="726">Andrea Danielli</text></g>
<g id="n11" class="node a"><circle cx="1122" cy="834" r="13.5"/><text x="1122" y="836">Marco Boddu</text></g>
<g id="n12" class="node b"><circle cx="906" cy="949" r="15"/><text x="904" y="951">Enrico Bassi</text></g>
<g id="n13" class="node a"><circle cx="1062" cy="1044" r="11.5"/><text x="1062" y="1046">Jacopo Amistani</text></g>
<g id="n14" class="node a"><circle cx="1183" cy="587" r="10"/><text x="1183" y="589">Marco Mancuso</text></g>
<g id="n15" class="node a"><circle cx="1171" cy="682" r="11.5"/><text x="1171" y="685">Ethereal Flowers</text></g>
<g id="n16" class="node b"><circle cx="842" cy="1118" r="11"/><text x="842" y="1120">Vectorealism Staff</text></g>
<g id="n17" class="node a"><circle cx="1446" cy="741" r="10.5"/><text x="1446" y="743">Serena Cangiano</text></g>
<g id="n18" class="node a"><circle cx="1176" cy="1177" r="10"/><text x="1176" y="1179">Simone Rambaldi</text></g>
<g id="n19" class="node a"><circle cx="1264" cy="1177" r="9.5"/><text x="1264" y="1180">Filippo Fresilli</text></g>
<g id="n20" class="node a"><circle cx="1207" cy="1320" r="10"/><text x="1207" y="1322">Lorenzo Cantini</text></g>
<g id="n21" class="node a"><circle cx="1514" cy="1087" r="9.5"/><text x="1514" y="1090">Giovanni Damiola</text></g>
<g id="n22" class="node a"><circle cx="1516" cy="1019" r="9"/><text x="1516" y="1021">Francesco Simonetti</text></g>
<g id="n23" class="node a"><circle cx="1403" cy="1033" r="9"/><text x="1403" y="1035">Alessandro Contini</text></g>
<g id="n24" class="node a"><circle cx="1023" cy="1139" r="10"/><text x="1023" y="1141">Giuseppe Cardinale Ciccotti</text></g>
<g id="n25" class="node a"><circle cx="939" cy="884" r="10.5"/><text x="938" y="887">Stefano Marangoni</text></g>
<g id="n26" class="node a"><circle cx="1458" cy="631" r="8.5"/><text x="1458" y="633">Denis Santachiara</text></g>
<g id="n27" class="node a"><circle cx="908" cy="664" r="9"/><text x="908" y="666">Mediterranean Fab Lab</text></g>
<g id="n28" class="node a"><circle cx="1079" cy="661" r="9"/><text x="1079" y="663">Francesco Bombardi</text></g>
<g id="n29" class="node a"><circle cx="1346" cy="1060" r="8"/><text x="1346" y="1062">Matteo Mattia</text></g>
<g class="node s" id="n30"><circle cx="1071" cy="1144" r="9.5"/><text x="1071" y="1146">Stefania Zardan</text></g>
<g class="node s" id="n31"><circle cx="949" cy="845" r="10"/><text x="949" y="847">Stefano Stefanisky Valiano</text></g>
<g class="node s" id="n32"><circle cx="982" cy="767" r="10"/><text x="982" y="769">Laura De Benedetto</text></g>
<g class="node s" id="n33"><circle cx="968" cy="994" r="9.5"/><text x="968" y="996">Davide Gomba</text></g>
<g class="node s" id="n34"><circle cx="1176" cy="978" r="10"/><text x="1176" y="980">Gabriele GX Carloni</text></g>
<g class="node s" id="n35"><circle cx="1276" cy="1068" r="9.5"/><text x="1276" y="1070">Marco Bassi Cattani</text></g>
<g class="node s" id="n36"><circle cx="1330" cy="1138" r="10"/><text x="1330" y="1140">Alberto Robot Ground</text></g>
<g class="node s" id="n37"><circle cx="1284" cy="1132" r="9"/><text x="1284" y="1134">Tommaso Perrieri</text></g>
<g class="node s" id="n38"><circle cx="1201" cy="866" r="9"/><text x="1201" y="868">Lorenzo Mengi</text></g>
<g class="node s" id="n39"><circle cx="1201" cy="833" r="8"/><text x="1201" y="835">Alessandro Barabati</text></g>
<g class="node s" id="n40"><circle cx="1313" cy="841" r="8.5"/><text x="1313" y="843">Ste Bonvio</text></g>
<g class="node s" id="n41"><circle cx="1279" cy="850" r="7"/><text x="1279" y="852">Maurizio Galluzzo</text></g>
<g class="node s" id="n42"><circle cx="1349" cy="848" r="8"/><text x="1349" y="850">Federico Saraco</text></g>
<g class="node s" id="n43"><circle cx="1379" cy="869" r="9"/><text x="1379" y="871">Stefano Maffei</text></g>
<g class="node s" id="n44"><circle cx="1433" cy="868" r="9"/><text x="1433" y="870">Daniela Pelicani</text></g>
<g class="node s" id="n45"><circle cx="1411" cy="893" r="8"/><text x="1411" y="895">Cristiano Mastellosio</text></g>
<g class="node s" id="n46"><circle cx="1351" cy="776" r="8"/><text x="1351" y="778">Valentina Urbinati</text></g>
<g class="node s" id="n47"><circle cx="1378" cy="820" r="8"/><text x="1378" y="822">Francesco Mazzocchi</text></g>
<g class="node s" id="n48"><circle cx="1414" cy="825" r="7.5"/><text x="1414" y="827">Bergit Huessen</text></g>
<g class="node s" id="n49"><circle cx="1471" cy="833" r="7"/><text x="1471" y="835">Daniele Mori</text></g>
<g class="node s" id="n50"><circle cx="1577" cy="812" r="7.5"/><text x="1577" y="814">Chiara Trimboschi</text></g>
<g class="node s" id="n51"><circle cx="1494" cy="757" r="7.5"/><text x="1494" y="760">Capitan Commando</text></g>
<g class="node s" id="n52"><circle cx="1389" cy="746" r="7"/><text x="1389" y="748">Luciano Comini</text></g>
<g class="node s" id="n53"><circle cx="1381" cy="707" r="8.5"/><text x="1381" y="709">Marcello Parvano</text></g>
<g class="node s" id="n54"><circle cx="1327" cy="675" r="7.5"/><text x="1327" y="677">Giusti Antonio Guido Francesco</text></g>
<g class="node s" id="n55"><circle cx="1300" cy="689" r="7"/><text x="1300" y="691">Demetrio Siragusa</text></g>
<g class="node s" id="n56"><circle cx="1222" cy="673" r="7.5"/><text x="1222" y="675">Matteo Sollini</text></g>
<g class="node s" id="n57"><circle cx="1273" cy="607" r="7"/><text x="1273" y="609">Stefano Saccucci</text></g>
<g class="node s" id="n58"><circle cx="1313" cy="614" r="7"/><text x="1313" y="616">Francesca Bria</text></g>
<g class="node s" id="n59"><circle cx="1339" cy="620" r="7"/><text x="1339" y="622">Lastella Francesco</text></g>
<g class="node s" id="n60"><circle cx="1360" cy="638" r="7"/><text x="1360" y="640">Antonio Piacentese</text></g>
<g class="node s" id="n61"><circle cx="1114" cy="602" r="7.5"/><text x="1114" y="604">Amleto Picerno Ceraso</text></g>
<g class="node s" id="n62"><circle cx="1249" cy="536" r="7"/><text x="1249" y="538">Patrizia Bolzan</text></g>
<g class="node s" id="n63"><circle cx="1253" cy="483" r="7.5"/><text x="1253" y="485">Mauro Lanza</text></g>
<g class="node s" id="n64"><circle cx="1241" cy="455" r="7"/><text x="1241" y="457">G.J. Mac</text></g>
<g class="node s" id="n65"><circle cx="1342" cy="491" r="7"/><text x="1342" y="493">Mario Sossato</text></g>
<g class="node s" id="n66"><circle cx="1376" cy="495" r="7"/><text x="1376" y="497">Stefano Pannella</text></g>
<g class="node s" id="n67"><circle cx="1404" cy="508" r="7"/><text x="1404" y="510">Riccardo Luna</text></g>
<g class="node s" id="n68"><circle cx="1355" cy="512" r="7"/><text x="1355" y="514">Rocco Bertè</text></g>
<g class="node s" id="n69"><circle cx="1380" cy="525" r="7"/><text x="1380" y="527">Marcello Merlo</text></g>
<g class="node s" id="n70"><circle cx="1430" cy="524" r="7"/><text x="1430" y="526">Matteo Brunati</text></g>
<g class="node s" id="n71"><circle cx="1403" cy="538" r="7"/><text x="1403" y="540">Marco Lorenzi</text></g>
<g class="node s" id="n72"><circle cx="1428" cy="550" r="7"/><text x="1428" y="552">Alessandro Capuli</text></g>
<g class="node s" id="n73"><circle cx="1455" cy="553" r="7"/><text x="1455" y="555">Simone Kalb</text></g>
<g class="node s" id="n74"><circle cx="1612" cy="482" r="7"/><text x="1612" y="484">Lorenzo Bedioli</text></g>
<g class="node s" id="n75"><circle cx="1600" cy="575" r="7"/><text x="1600" y="577">Stefano Maggiero</text></g>
<g class="node s" id="n76"><circle cx="1656" cy="633" r="7"/><text x="1656" y="635">Bruce Roche</text></g>
<g class="node s" id="n77"><circle cx="1703" cy="80" r="7"/><text x="1703" y="82">Umberto Visconti</text></g>
<g class="node s" id="n78"><circle cx="1284" cy="283" r="7"/><text x="1284" y="285">Gaetano De Angelis</text></g>
<g class="node s" id="n79"><circle cx="1176" cy="351" r="7"/><text x="1176" y="353">Fabrizio Rossetti</text></g>
<g class="node s" id="n80"><circle cx="295" cy="434" r="7"/><text x="295" y="436">Tony2 Light</text></g>
<g class="node s" id="n81"><circle cx="318" cy="1902" r="7"/><text x="318" y="1904">Federico Eizola</text></g>
<g class="node s" id="n82"><circle cx="337" cy="1918" r="7"/><text x="337" y="1920">Rita Pancinello</text></g>
<g class="node s" id="n83"><circle cx="742" cy="515" r="7"/><text x="742" y="517">Andrea Graziano</text></g>
<g class="node s" id="n84"><circle cx="957" cy="556" r="8"/><text x="957" y="558">Luca Cavalli</text></g>
<g class="node s" id="n85"><circle cx="999" cy="591" r="7.5"/><text x="999" y="593">Stefano Micelli</text></g>
<g class="node s" id="n86"><circle cx="901" cy="599" r="7"/><text x="901" y="601">Sandro Fontana</text></g>
<g class="node s" id="n87"><circle cx="935" cy="599" r="7"/><text x="935" y="601">Mariano Strozzaro</text></g>
<g class="node s" id="n88"><circle cx="1048" cy="611" r="7.5"/><text x="1048" y="613">Daniele Darrigo</text></g>
<g class="node s" id="n89"><circle cx="1077" cy="481" r="7"/><text x="1077" y="483">Claudio Cappellini</text></g>
<g class="node s" id="n90"><circle cx="1107" cy="475" r="7"/><text x="1107" y="477">Fabio Paolino</text></g>
<g class="node s" id="n91"><circle cx="959" cy="647" r="7.5"/><text x="959" y="649">Giulia Serrecasi</text></g>
<g class="node s" id="n92"><circle cx="982" cy="681" r="8"/><text x="982" y="683">Michele Semeghino</text></g>
<g class="node s" id="n93"><circle cx="1090" cy="689" r="7"/><text x="1090" y="691">Francesca Bugiano</text></g>
<g class="node s" id="n94"><circle cx="940" cy="741" r="8"/><text x="940" y="743">Stefano Caldavari</text></g>
<g class="node s" id="n95"><circle cx="847" cy="779" r="7"/><text x="847" y="781">Alex Giordano</text></g>
<g class="node s" id="n96"><circle cx="823" cy="810" r="7"/><text x="823" y="812">Andrea Maglio</text></g>
<g class="node s" id="n97"><circle cx="852" cy="814" r="7"/><text x="852" y="816">Alessio Tirioli</text></g>
<g class="node s" id="n98"><circle cx="1002" cy="806" r="7.5"/><text x="1002" y="808">Paolo Paolino</text></g>
<g class="node s" id="n99"><circle cx="685" cy="820" r="7"/><text x="685" y="822">Giovanni Faggini</text></g>
<g class="node s" id="n100"><circle cx="678" cy="850" r="7"/><text x="678" y="852">Arturo Tarolfi</text></g>
<g class="node s" id="n101"><circle cx="755" cy="853" r="7"/><text x="755" y="855">Jacopo Gianni</text></g>
<g class="node s" id="n102"><circle cx="832" cy="838" r="7"/><text x="832" y="840">Giulia Tomasello</text></g>
<g class="node s" id="n103"><circle cx="827" cy="863" r="7"/><text x="827" y="865">Vincenzo Sandro Cusenza</text></g>
<g class="node s" id="n104"><circle cx="790" cy="929" r="8.5"/><text x="790" y="931">Diego Zeppegno</text></g>
<g class="node s" id="n105"><circle cx="653" cy="970" r="7"/><text x="653" y="972">Walter Weissensteiner</text></g>
<g class="node s" id="n106"><circle cx="735" cy="991" r="7"/><text x="735" y="993">Mirko Parisi</text></g>
<g class="node s" id="n107"><circle cx="1043" cy="979" r="7"/><text x="1043" y="981">Eleonora Quateka</text></g>
<g class="node s" id="n108"><circle cx="829" cy="1042" r="7.5"/><text x="829" y="1044">Lorenzo Romagnoli</text></g>
<g class="node s" id="n109"><circle cx="917" cy="1042" r="7"/><text x="917" y="1044">Marco Pierre</text></g>
<g class="node s" id="n110"><circle cx="878" cy="1058" r="7.5"/><text x="878" y="1060">Mattia Naglio</text></g>
<g class="node s" id="n111"><circle cx="1037" cy="1063" r="6.5"/><text x="1037" y="1065">Ghassan Ayoubi</text></g>
<g class="node s" id="n112"><circle cx="1010" cy="1079" r="7"/><text x="1010" y="1081">Giorgia Maggiolo</text></g>
<g class="node s" id="n113"><circle cx="970" cy="1083" r="8"/><text x="970" y="1085">Assia Hashtanfar</text></g>
<g class="node s" id="n114"><circle cx="1036" cy="1093" r="7"/><text x="1036" y="1095">Gabriele Silvi</text></g>
<g class="node s" id="n115"><circle cx="771" cy="1094" r="7.5"/><text x="771" y="1096">Craig McChickadee</text></g>
<g class="node s" id="n116"><circle cx="904" cy="1132" r="7.5"/><text x="904" y="1134">Riccardo Bertolupi</text></g>
<g class="node s" id="n117"><circle cx="931" cy="1157" r="7.5"/><text x="931" y="1159">Davide Di Luca</text></g>
<g class="node s" id="n118"><circle cx="654" cy="1207" r="7"/><text x="654" y="1209">Sarah Ceserino</text></g>
<g class="node s" id="n119"><circle cx="1083" cy="1205" r="7.5"/><text x="1083" y="1207">Alessandro Vanellucci</text></g>
<g class="node s" id="n120"><circle cx="909" cy="1212" r="7"/><text x="909" y="1214">Filippo Bessa</text></g>
<g class="node s" id="n121"><circle cx="942" cy="1220" r="7.5"/><text x="942" y="1222">Davide Avicenzo</text></g>
<g class="node s" id="n122"><circle cx="638" cy="1242" r="8"/><text x="638" y="1244">Simone Gillo</text></g>
<g class="node s" id="n123"><circle cx="678" cy="1246" r="7"/><text x="678" y="1248">Massimiliano Compagno</text></g>
<g class="node s" id="n124"><circle cx="1076" cy="1262" r="7.5"/><text x="1076" y="1264">Francesco Guerrera</text></g>
<g class="node s" id="n125"><circle cx="883" cy="1266" r="7"/><text x="883" y="1268">Daniela Piddighe</text></g>
<g class="node s" id="n126"><circle cx="946" cy="1275" r="7.5"/><text x="946" y="1277">Giorgio Gorine</text></g>
<g class="node s" id="n127"><circle cx="895" cy="1356" r="7"/><text x="895" y="1358">Sandro Cosamatta</text></g>
<g class="node s" id="n128"><circle cx="1045" cy="1358" r="7"/><text x="1045" y="1360">Gianluca Pettoni</text></g>
<g class="node s" id="n129"><circle cx="1074" cy="1365" r="7"/><text x="1074" y="1367">Saverio Silli</text></g>
<g class="node s" id="n130"><circle cx="512" cy="1318" r="7"/><text x="512" y="1320">Fuma Pacchio</text></g>
<g class="node s" id="n131"><circle cx="1389" cy="972" r="7.5"/><text x="1389" y="974">Nicola Brambilla</text></g>
<g class="node s" id="n132"><circle cx="1491" cy="918" r="7"/><text x="1491" y="920">Niky Lorazzi</text></g>
<g class="node s" id="n133"><circle cx="1476" cy="938" r="7"/><text x="1476" y="940">Raffaele Mauro</text></g>
<g class="node s" id="n134"><circle cx="1466" cy="962" r="7"/><text x="1466" y="964">Carolina Chini</text></g>
<g class="node s" id="n135"><circle cx="1501" cy="969" r="7.5"/><text x="1501" y="971">Bigg Proxy</text></g>
<g class="node s" id="n136"><circle cx="1605" cy="896" r="7"/><text x="1605" y="898">Chiara Spinelli</text></g>
<g class="node s" id="n137"><circle cx="1615" cy="919" r="7"/><text x="1615" y="921">Alessia Sarollo</text></g>
<g class="node s" id="n138"><circle cx="1597" cy="937" r="7"/><text x="1597" y="939">Carlita</text></g>
<g class="node s" id="n139"><circle cx="1619" cy="951" r="7"/><text x="1619" y="953">Filippo Berto</text></g>
<g class="node s" id="n140"><circle cx="1601" cy="972" r="7"/><text x="1601" y="974">Marco Ferrara</text></g>
<g class="node s" id="n141"><circle cx="1607" cy="1001" r="7"/><text x="1607" y="1003">Cervello Infuga</text></g>
<g class="node s" id="n142"><circle cx="1362" cy="1025" r="7"/><text x="1362" y="1027">Massimo Banzi</text></g>
<g class="node s" id="n143"><circle cx="1394" cy="1088" r="7"/><text x="1394" y="1090">Andrea Dedonte</text></g>
<g class="node s" id="n144"><circle cx="1364" cy="1093" r="8"/><text x="1364" y="1095">Luca Fertella</text></g>
<g class="node s" id="n145"><circle cx="1392" cy="1136" r="7"/><text x="1392" y="1138">Luciano Paladini</text></g>
<g class="node s" id="n146"><circle cx="1467" cy="1160" r="8.5"/><text x="1467" y="1162">Riccardo Poletti</text></g>
<g class="node s" id="n147"><circle cx="1347" cy="1246" r="7"/><text x="1347" y="1248">Il Bianco</text></g>
<g class="node s" id="n148"><circle cx="1703" cy="1191" r="7"/><text x="1703" y="1193">Pierluigi Bacello</text></g>
<g class="node s" id="n149"><circle cx="1299" cy="1335" r="7"/><text x="1299" y="1337">Elena Lembrata</text></g>
<g class="node s" id="n150"><circle cx="1324" cy="1341" r="7"/><text x="1324" y="1343">Agostino Carasaniti</text></g>
<g class="node s" id="n151"><circle cx="1261" cy="1358" r="7"/><text x="1261" y="1360">Pasquale Fedele</text></g>
<g class="node s" id="n152"><circle cx="1288" cy="1362" r="7"/><text x="1288" y="1364">Andrea Calabriga</text></g>
<g class="node s" id="n153"><circle cx="1222" cy="1426" r="8"/><text x="1222" y="1428">Saverio Tosaco</text></g>
<g class="node s" id="n154"><circle cx="1212" cy="1533" r="7"/><text x="1212" y="1535">Fabio Sandri</text></g>
<g class="node s" id="n155"><circle cx="1240" cy="1531" r="7"/><text x="1240" y="1533">Luca Benedetti</text></g>
</svg>
